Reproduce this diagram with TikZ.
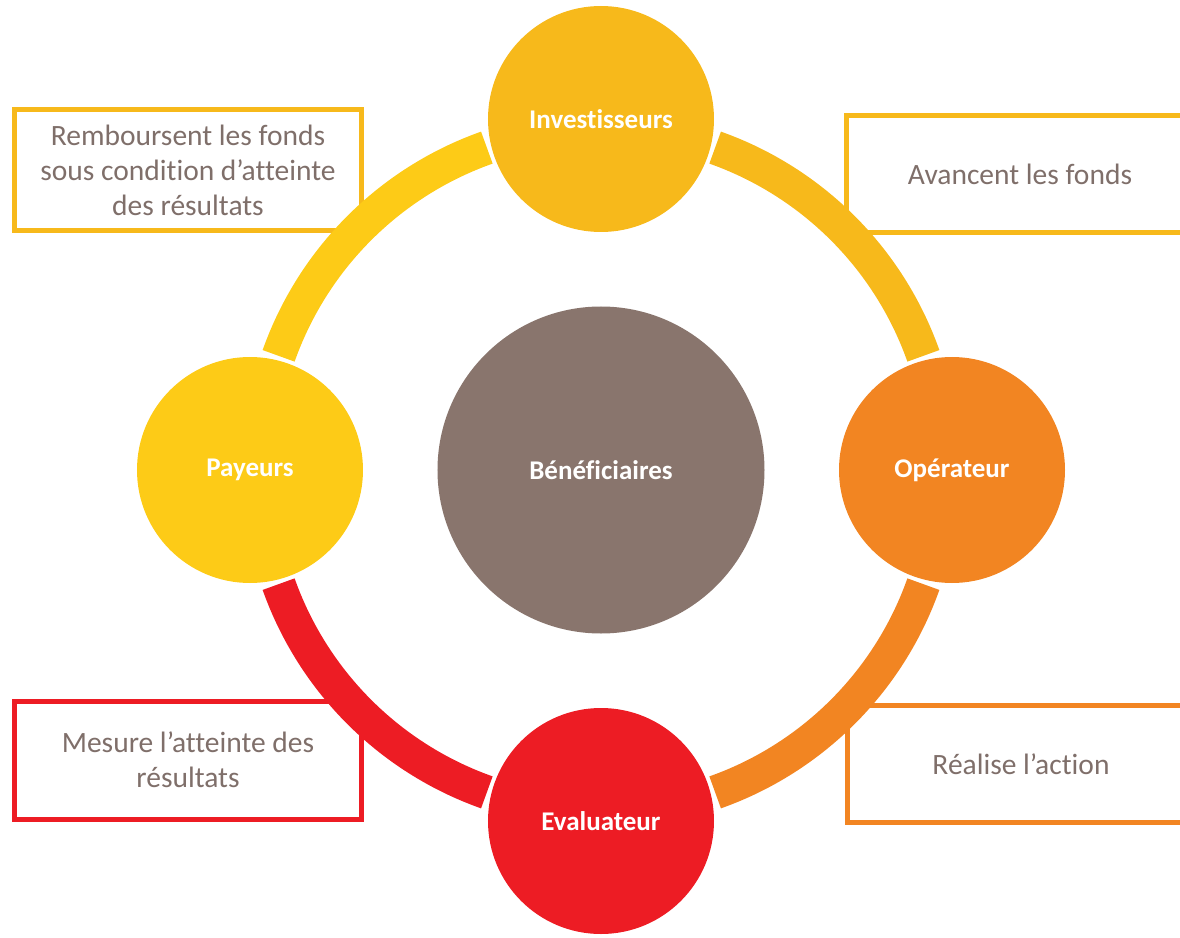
\documentclass[tikz,border=0pt]{standalone}
\usepackage{fontspec}
\setmainfont{Carlito}[Ligatures={TeX,NoCommon}]
\usepackage{tikz}
\definecolor{invcol}{RGB}{247,185,27}
\definecolor{paycol}{RGB}{253,203,23}
\definecolor{opcol}{RGB}{242,133,34}
\definecolor{evalcol}{RGB}{237,28,36}
\definecolor{benefcol}{RGB}{137,117,109}
\definecolor{txtcol}{RGB}{127,111,106}
\tikzset{
  actor/.style={circle, draw=none, inner sep=0pt, minimum size=226pt, text=white, font=\fontsize{27}{32}\selectfont\bfseries},
  rolebox/.style={rectangle, line width=5pt, inner sep=0pt, minimum width=347pt, minimum height=119pt, text=txtcol, align=center, font=\fontsize{29.5}{35}\selectfont},
  ringline/.style={line width=34pt}
}
\newcommand{\ringarc}[3]{\draw[ringline, #3] (#1:342) arc[start angle=#1, end angle=#2, radius=342];}

\begin{document}
\begin{tikzpicture}[x=1pt, y=1pt]
    \useasboundingbox (-601,-467) rectangle (579,470);
    % text boxes
    \node[rolebox, draw=invcol, minimum height=121pt] (remb) at (-413,300) {Remboursent les fonds\\sous condition d’atteinte\\des résultats};
    \node[rolebox, draw=invcol, minimum height=117pt] (avance) at (419,296) {Avancent les fonds};
    \node[rolebox, draw=evalcol, minimum height=118pt] (mesure) at (-413,-290) {Mesure l’atteinte des\\résultats};
    \node[rolebox, draw=opcol, minimum height=117pt] (realise) at (420,-294) {Réalise l’action};
    % ring
    \ringarc{109.5}{160.5}{paycol}
    \ringarc{19.5}{70.5}{invcol}
    \ringarc{-70.5}{-19.5}{opcol}
    \ringarc{199.5}{250.5}{evalcol}
    % circles
    \node[actor, fill=benefcol, minimum size=327pt] (benef) at (0,0) {Bénéficiaires};
    \node[actor, fill=invcol] (inv) at (90:351) {Investisseurs};
    \node[actor, fill=opcol] (op) at (0:351) {Opérateur};
    \node[actor, fill=evalcol] (eval) at (270:351) {Evaluateur};
    \node[actor, fill=paycol] (pay) at (180:351) {Payeurs};
\end{tikzpicture}
\end{document}
